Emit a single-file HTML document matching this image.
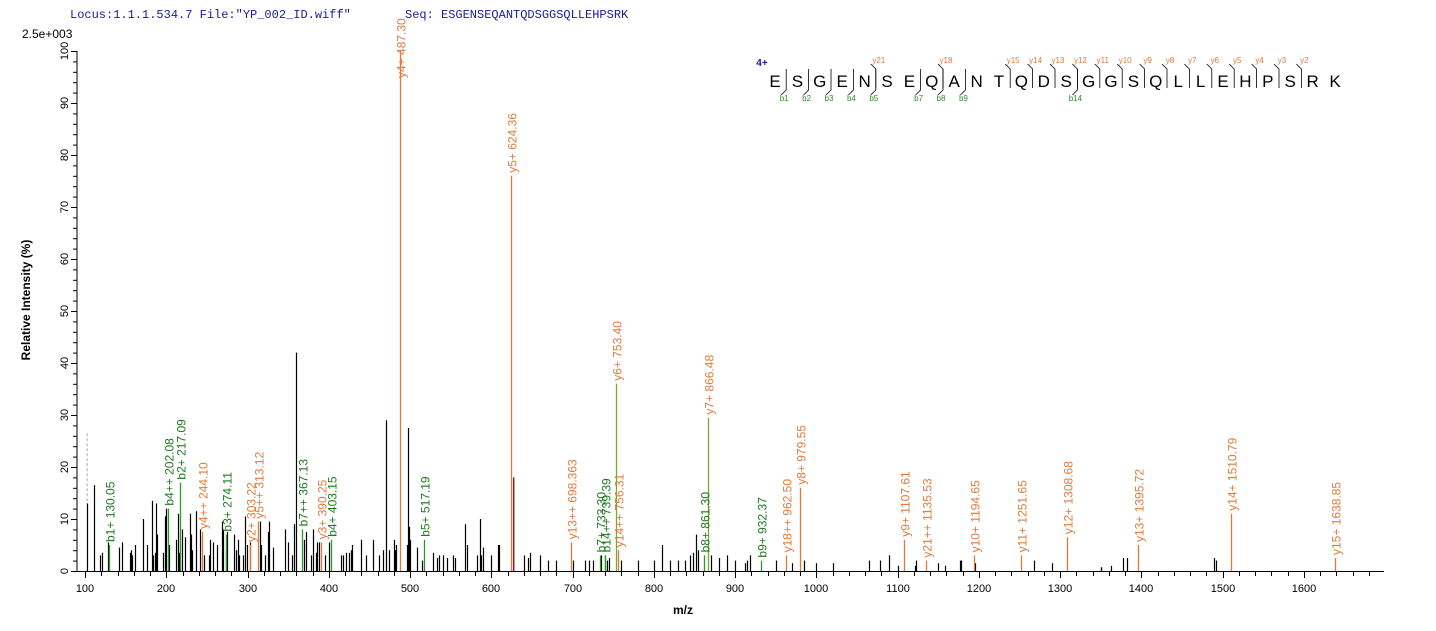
<!DOCTYPE html>
<html><head><meta charset="utf-8"><style>
body{margin:0;background:#fff;}
svg{display:block;font-family:"Liberation Sans",Arial,sans-serif;}
.lab{font-size:12px;}
.o{fill:#e07a3c;} .g{fill:#1c7a1c;}
</style></head><body>
<svg id="s" width="1436" height="631" viewBox="0 0 1436 631">
<text x="70" y="18" font-family="Liberation Mono,monospace" font-size="12" fill="#1a1aa0">Locus:1.1.1.534.7 File:"YP_002_ID.wiff"</text>
<text x="405" y="18" font-family="Liberation Mono,monospace" font-size="12" fill="#1a1aa0">Seq: ESGENSEQANTQDSGGSQLLEHPSRK</text>
<text x="22" y="38" font-size="12" fill="#000">2.5e+003</text>
<text transform="translate(30,300) rotate(-90)" text-anchor="middle" font-size="12" font-weight="bold">Relative   Intensity (%)</text>
<text x="683" y="614" text-anchor="middle" font-size="12" font-weight="bold">m/z</text>
<g id="axes" stroke="#000" stroke-width="1"></g>
<g id="peaks"></g>
<g id="yt" font-size="11"></g>
<g id="xt" font-size="11" text-anchor="middle">
<text x="85" y="592">100</text><text x="166" y="592">200</text><text x="248" y="592">300</text><text x="329" y="592">400</text><text x="410" y="592">500</text><text x="491" y="592">600</text><text x="573" y="592">700</text><text x="654" y="592">800</text><text x="735" y="592">900</text><text x="816" y="592">1000</text><text x="898" y="592">1100</text><text x="979" y="592">1200</text><text x="1060" y="592">1300</text><text x="1141" y="592">1400</text><text x="1223" y="592">1500</text><text x="1304" y="592">1600</text>
</g>
<g font-size="11" text-anchor="middle">
<text transform="translate(68,571) rotate(-90)">0</text><text transform="translate(68,519) rotate(-90)">10</text><text transform="translate(68,467) rotate(-90)">20</text><text transform="translate(68,415) rotate(-90)">30</text><text transform="translate(68,363) rotate(-90)">40</text><text transform="translate(68,311) rotate(-90)">50</text><text transform="translate(68,259) rotate(-90)">60</text><text transform="translate(68,207) rotate(-90)">70</text><text transform="translate(68,155) rotate(-90)">80</text><text transform="translate(68,103) rotate(-90)">90</text><text transform="translate(68,51) rotate(-90)">100</text>
</g>
<g class="lab" id="labels">
<text class="g" data-m="130.05" data-p="5">b1+ 130.05</text>
<text class="g" data-m="202.08" data-p="12">b4++ 202.08</text>
<text class="g" data-m="217.09" data-p="17">b2+ 217.09</text>
<text class="o" data-m="244.10" data-p="7.5">y4++ 244.10</text>
<text class="g" data-m="274.11" data-p="7">b3+ 274.11</text>
<text class="o" data-m="303.22" data-p="5">y2+ 303.22</text>
<text class="o" data-m="313.12" data-p="9.5">y5++ 313.12</text>
<text class="g" data-m="367.13" data-p="8">b7++ 367.13</text>
<text class="o" data-m="390.25" data-p="5.5">y3+ 390.25</text>
<text class="g" data-m="403.15" data-p="6">b4+ 403.15</text>
<text class="o" data-m="487.30" data-p="100" data-ly="78">y4+ 487.30</text>
<text class="g" data-m="517.19" data-p="6">b5+ 517.19</text>
<text class="o" data-m="624.36" data-p="76">y5+ 624.36</text>
<text class="o" data-m="698.363" data-p="5.5">y13++ 698.363</text>
<text class="g" data-m="733.30" data-p="3">b7+ 733.30</text>
<text class="g" data-m="739.39" data-p="3">b14++ 739.39</text>
<text class="o" data-m="753.40" data-p="36" data-c="#7aa82a">y6+ 753.40</text>
<text class="o" data-m="756.31" data-p="4">y14++ 756.31</text>
<text class="g" data-m="861.30" data-p="3">b8+ 861.30</text>
<text class="o" data-m="866.48" data-p="29.5" data-c="#7aa82a">y7+ 866.48</text>
<text class="g" data-m="932.37" data-p="2">b9+ 932.37</text>
<text class="o" data-m="962.50" data-p="3">y18++ 962.50</text>
<text class="o" data-m="979.55" data-p="16">y8+ 979.55</text>
<text class="o" data-m="1107.61" data-p="6">y9+ 1107.61</text>
<text class="o" data-m="1135.53" data-p="2">y21++ 1135.53</text>
<text class="o" data-m="1194.65" data-p="3">y10+ 1194.65</text>
<text class="o" data-m="1251.65" data-p="3">y11+ 1251.65</text>
<text class="o" data-m="1308.68" data-p="6.5">y12+ 1308.68</text>
<text class="o" data-m="1395.72" data-p="5">y13+ 1395.72</text>
<text class="o" data-m="1510.79" data-p="11">y14+ 1510.79</text>
<text class="o" data-m="1638.85" data-p="2.5">y15+ 1638.85</text>
</g>
<g id="seq" font-size="17" text-anchor="middle" fill="#000">
<text x="762" y="66" font-size="10" font-weight="bold" fill="#1a1aa0">4+</text>
</g>
</svg>
<script>
var NS="http://www.w3.org/2000/svg";
function X(m){return 85+(m-100)*0.8125;}
function Y(p){return 571-5.2*p;}
function ln(g,x1,y1,x2,y2,c,w,d){var l=document.createElementNS(NS,"line");l.setAttribute("x1",x1);l.setAttribute("y1",y1);l.setAttribute("x2",x2);l.setAttribute("y2",y2);l.setAttribute("stroke",c||"#000");l.setAttribute("stroke-width",w||1);if(d)l.setAttribute("stroke-dasharray",d);document.getElementById(g).appendChild(l);}
ln("axes",77,51,77,571.5);ln("axes",77,571.5,1384,571.5);
for(var p=0;p<=100;p+=2){ln("axes",p%10==0?71:73,Y(p)+.5,77,Y(p)+.5);}
for(var m=80;m<=1680;m+=20){var x=Math.round(X(m))+.5;if(x<77)continue;ln("axes",x,571.5,x,m%100==0?578:576);}
var bk=[102,13,111,16.5,119,3,121,3.5,128,5.5,142,4.5,146,5.5,155,3.5,156,4,158,3,161,5,171,10,176,5,182,13.5,184,3,186,3.5,187,13,189,7,196,3.5,199,10.5,200,12,203,5,212,6,214,11,216,3.5,219,8,223,6.5,229,11,230,7,232,4,237,11.5,242,8,246,3,252,3,254,6,258,5.5,263,5,268,9.5,270,8,273,4,275,7.5,283,7,286,4,288,6,290,3,294,3,297,10.5,299,5,303,5.5,315,9.5,317,5,322,3,325,7.5,327,9.5,331,4.5,346,8,350,5.5,355,3,357,9,360,42,369,6,372,7.5,378,3,381,8,384,3.5,385,5.5,388,5.5,395,3,400,5.5,415,3,418,3,421,3.5,425,3.5,427,4,429,5,440,6,446,3,455,6,462,3,467,4,471,29,474,4,480,6,481,4,483,5,496,5,497,27.5,499,8.5,500,6,508,4.5,515,2,528,3.5,533,2.5,536,3,540,3,545,2.5,553,3,555,2.5,568,9,570,5,583,3,586,10,587,3,590,4.5,600,3,608,5,610,5,640,3,645,2.5,648,3.5,660,3,670,2,680,2,700,2,715,2,720,2,725,2,735,3,740,3,742,2,745,2.5,760,2,780,2,800,2,810,5,820,2,830,2,838,2,845,3,848,3.5,852,7,855,4,870,3,880,2.5,890,3,900,2,912,1.5,915,2,918,3,950,2,970,1.5,985,2,1000,1.5,1020,1.5,1065,2,1078,2,1090,3,1100,1,1121,1,1123,2,1150,1.5,1158,1,1177,2,1178,2,1195,1.5,1268,2,1290,1.5,1350,.7,1351,.7,1363,1,1378,2.5,1383,2.5,1490,2.5,1492,2];
ln("peaks",X(102)+.5,Y(26.5),X(102)+.5,Y(13),"#aaa",1,"3,2");
for(var i=0;i<bk.length;i+=2){var x=Math.round(X(bk[i]))+.5;ln("peaks",x,571,x,Y(bk[i+1]),"#000",1.2);}
ln("peaks",X(627)+.5,571,X(627)+.5,Y(18),"#8b1a1a",1.5);
var ts=document.querySelectorAll("#labels text");
ts.forEach(function(t){var m=+t.getAttribute("data-m"),p=+t.getAttribute("data-p");var x=Math.round(X(m))+.5,y=Y(p);
var c=t.getAttribute("data-c")||(t.classList.contains("g")?"#2a9a2a":"#e07a3c");
ln("peaks",x,571,x,y,c,1.3);
var ly=t.getAttribute("data-ly")?+t.getAttribute("data-ly"):y-3;
t.setAttribute("transform","translate("+(x+5)+","+ly+") rotate(-90)");});
var seq="ESGENSEQANTQDSGGSQLLEHPSRK",g=document.getElementById("seq");
function cx(i){return 775+i*22.4;}
for(var i=0;i<seq.length;i++){var t=document.createElementNS(NS,"text");t.setAttribute("x",cx(i));t.setAttribute("y",87);t.textContent=seq[i];g.appendChild(t);}
function small(x,y,s,c){var t=document.createElementNS(NS,"text");t.setAttribute("x",x);t.setAttribute("y",y);t.setAttribute("font-size","8");t.setAttribute("fill",c);t.textContent=s;g.appendChild(t);}
function bar(d){var l=document.createElementNS(NS,"polyline");l.setAttribute("points",d);l.setAttribute("fill","none");l.setAttribute("stroke","#000");l.setAttribute("stroke-width","0.8");g.appendChild(l);}
var bs=[0,1,2,3,4,6,7,8,13];
bs.forEach(function(i){var x=cx(i)+11.2;bar(x+",69 "+x+",90 "+(x-5)+",95");small(x-2,101,"b"+(i+1),"#2a8a2a");});
var ys=[4,7,10,11,12,13,14,15,16,17,18,19,20,21,22,23];
ys.forEach(function(i){var x=cx(i)+11.2,n=26-(i+1);bar((x-5)+",64 "+x+",69 "+x+",88");small(x+3,63,"y"+n,"#e07a3c");});
</script>
</body></html>
